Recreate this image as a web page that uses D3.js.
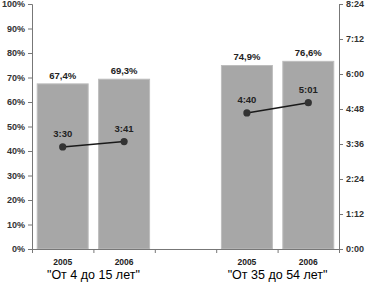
<!DOCTYPE html>
<html>
<head>
<meta charset="utf-8">
<script src="https://cdn.jsdelivr.net/npm/d3@7"></script>
<style>
  body { margin: 0; background: #fff; }
  svg text { font-family: Arial, 'Liberation Sans', sans-serif; }
</style>
</head>
<body>
<div id="chart"></div>
<script>
// Data.
const groups = ['"От 4 до 15 лет"', '"От 35 до 54 лет"'];
const years = ['2005', '2006'];
const shareValues = [[67.4, 69.3], [74.9, 76.6]];
const timeLabels = [['3:30', '3:41'], ['4:40', '5:01']];
const pctTicks = [0, 10, 20, 30, 40, 50, 60, 70, 80, 90, 100];
const timeTicks = ['0:00', '1:12', '2:24', '3:36', '4:48', '6:00', '7:12', '8:24'];

// Helpers.
const toMin = s => { const p = s.split(':'); return +p[0] * 60 + +p[1]; };

// Svg Constants.
const width = 366, height = 284;
const plotLeft = 32, plotRight = 339, plotTop = 4, plotBottom = 249;

const svg = d3.select('#chart')
    .append('svg')
    .attr('width', width)
    .attr('height', height);

// Slots: two bars, an empty gap, two bars.
const slots = ['a2005', 'a2006', 'gap', 'b2005', 'b2006'];
const x = d3.scaleBand()
    .domain(slots)
    .range([plotLeft, plotRight])
    .paddingInner(0.17)
    .paddingOuter(0.085);
const xLin = d3.scaleLinear().domain([0, slots.length]).range([plotLeft, plotRight]);

const yPct = d3.scaleLinear().domain([0, 100]).range([plotBottom, plotTop]);
const yTime = d3.scaleLinear().domain([0, toMin(timeTicks[timeTicks.length - 1])]).range([plotBottom, plotTop]);

// Flatten data to rows.
const rows = [];
groups.forEach((g, gi) => {
    years.forEach((yr, yi) => {
        rows.push({
            group: gi,
            year: yr,
            slot: (gi === 0 ? 'a' : 'b') + yr,
            share: shareValues[gi][yi],
            time: timeLabels[gi][yi]
        });
    });
});

// Bars.
svg.selectAll('.bar')
    .data(rows)
    .join('rect')
    .attr('class', 'bar')
    .attr('x', d => x(d.slot))
    .attr('y', d => yPct(d.share))
    .attr('width', x.bandwidth())
    .attr('height', d => yPct(0) - yPct(d.share))
    .attr('fill', '#a7a7a7')
    .attr('stroke', '#bdbdbd')
    .attr('stroke-width', 1);

// Bar labels.
svg.selectAll('.barlab')
    .data(rows)
    .join('text')
    .attr('x', d => x(d.slot) + x.bandwidth() / 2)
    .attr('y', d => yPct(d.share) - 5)
    .attr('text-anchor', 'middle')
    .attr('font-size', '9.5px')
    .attr('font-weight', 'bold')
    .attr('fill', '#222')
    .text(d => d.share.toFixed(1).replace('.', ',') + '%');

// Left axis.
const axL = svg.append('g')
    .attr('transform', `translate(${plotLeft},0)`)
    .call(d3.axisLeft(yPct).tickValues(pctTicks).tickFormat(d => d + '%').tickSize(4).tickPadding(3));
axL.select('.domain').attr('stroke', '#777');
axL.selectAll('.tick line').attr('stroke', '#777');
axL.selectAll('.tick text').attr('font-size', '9px').attr('font-weight', 'bold').attr('fill', '#333');

// Right axis.
const axR = svg.append('g')
    .attr('transform', `translate(${plotRight},0)`)
    .call(d3.axisRight(yTime).tickValues(timeTicks.map(toMin)).tickFormat((d, i) => timeTicks[i]).tickSize(4).tickPadding(3));
axR.select('.domain').attr('stroke', '#777');
axR.selectAll('.tick line').attr('stroke', '#777');
axR.selectAll('.tick text').attr('font-size', '9px').attr('font-weight', 'bold').attr('fill', '#333');

// Bottom axis.
const axB = svg.append('g')
    .attr('transform', `translate(0,${plotBottom})`)
    .call(d3.axisBottom(xLin).ticks(slots.length).tickFormat('').tickSize(4).tickSizeOuter(0));
axB.select('.domain').attr('stroke', '#777');
axB.selectAll('.tick line').attr('stroke', '#777');

// Year labels.
svg.selectAll('.yr')
    .data(rows)
    .join('text')
    .attr('x', d => x(d.slot) + x.bandwidth() / 2)
    .attr('y', 265)
    .attr('text-anchor', 'middle')
    .attr('font-size', '8.5px')
    .attr('font-weight', 'bold')
    .attr('fill', '#222')
    .text(d => d.year);

// Group labels.
svg.selectAll('.grp')
    .data(groups)
    .join('text')
    .attr('x', (d, i) => (x(i === 0 ? 'a2005' : 'b2005') + x(i === 0 ? 'a2006' : 'b2006') + x.bandwidth()) / 2)
    .attr('y', 279)
    .attr('text-anchor', 'middle')
    .attr('font-size', '12.5px')
    .attr('fill', '#000')
    .text(d => d);

// Time lines, one per group.
const line = d3.line()
    .x(d => x(d.slot) + x.bandwidth() / 2)
    .y(d => yTime(toMin(d.time)));

groups.forEach((g, gi) => {
    const pts = rows.filter(r => r.group === gi);
    svg.append('path')
        .datum(pts)
        .attr('d', line)
        .attr('fill', 'none')
        .attr('stroke', '#1a1a1a')
        .attr('stroke-width', 1.5);
});

svg.selectAll('.dot')
    .data(rows)
    .join('circle')
    .attr('cx', d => x(d.slot) + x.bandwidth() / 2)
    .attr('cy', d => yTime(toMin(d.time)))
    .attr('r', 3.6)
    .attr('fill', '#333');

svg.selectAll('.tlab')
    .data(rows)
    .join('text')
    .attr('x', d => x(d.slot) + x.bandwidth() / 2)
    .attr('y', d => yTime(toMin(d.time)) - 10)
    .attr('text-anchor', 'middle')
    .attr('font-size', '9.5px')
    .attr('font-weight', 'bold')
    .attr('fill', '#222')
    .text(d => d.time);
</script>
</body>
</html>
